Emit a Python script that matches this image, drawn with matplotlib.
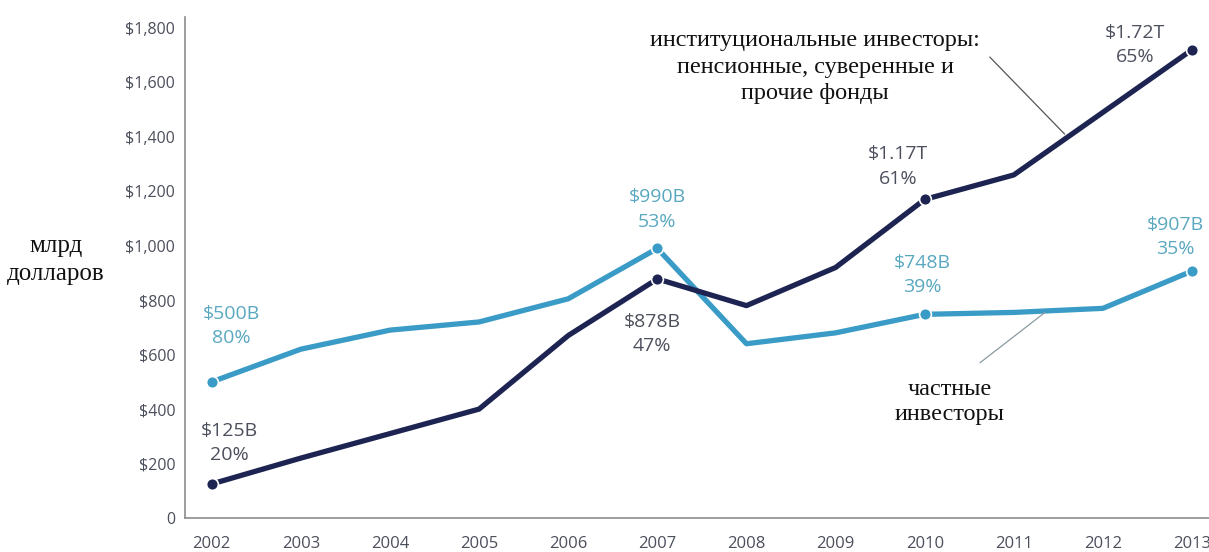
import matplotlib.pyplot as plt

# Капитал в фондах прямых инвестиций по типу инвестора, млрд долларов
years = [2002, 2003, 2004, 2005, 2006, 2007, 2008, 2009, 2010, 2011, 2012, 2013]
institutional = [125, 220, 310, 400, 670, 878, 780, 920, 1170, 1260, 1490, 1720]
private = [500, 620, 690, 720, 805, 990, 640, 680, 748, 755, 770, 907]

yticks = [0, 200, 400, 600, 800, 1000, 1200, 1400, 1600, 1800]
ytick_labels = ['0', '$200', '$400', '$600', '$800', '$1,000', '$1,200', '$1,400', '$1,600', '$1,800']

# подписи точек: (год, текст)
inst_labels = {2002: '$125B\n20%', 2007: '$878B\n47%', 2010: '$1.17T\n61%', 2013: '$1.72T\n65%'}
priv_labels = {2002: '$500B\n80%', 2007: '$990B\n53%', 2010: '$748B\n39%', 2013: '$907B\n35%'}

dark = '#1e2452'
light = '#3a9cc6'
dark_txt = '#4c4f5c'
light_txt = '#5aa8c0'
sans = ['Open Sans', 'DejaVu Sans']
serif = ['Liberation Serif', 'DejaVu Serif']

fig = plt.figure(figsize=(12.09, 5.52), dpi=100)
ax = fig.add_axes([0.153, 0.0616, 0.847, 0.9076])

ax.plot(years, private, color=light, lw=3.8, solid_capstyle='round', zorder=3)
ax.plot(years, institutional, color=dark, lw=3.8, solid_capstyle='round', zorder=4)

for yr in priv_labels:
    ax.plot(yr, private[years.index(yr)], 'o', color=light, ms=8.5, mec='white', mew=1.2, zorder=5)
for yr in inst_labels:
    ax.plot(yr, institutional[years.index(yr)], 'o', color=dark, ms=8.5, mec='white', mew=1.2, zorder=5)

inst_off = {2002: (18, 41), 2007: (-5, -55), 2010: (-27, 33), 2013: (-57, 5)}
priv_off = {2002: (20, 56), 2007: (0, 39), 2010: (-2, 39), 2013: (-17, 34)}

for yr, txt in inst_labels.items():
    ax.annotate(txt, (yr, institutional[years.index(yr)]), xytext=inst_off[yr],
                textcoords='offset pixels', ha='center', va='center', fontsize=14,
                color=dark_txt, family=sans, linespacing=1.45)
for yr, txt in priv_labels.items():
    ax.annotate(txt, (yr, private[years.index(yr)]), xytext=priv_off[yr],
                textcoords='offset pixels', ha='center', va='center', fontsize=14,
                color=light_txt, family=sans, linespacing=1.45)

# названия серий и выноски к линиям
ax.text(2008.77, 1656, 'институциональные инвесторы:\nпенсионные, суверенные и\nпрочие фонды',
        ha='center', va='center', fontsize=17.5, family=serif, color='#111111', linespacing=1.32)
ax.annotate('', xy=(2011.57, 1410), xytext=(2010.73, 1693),
            arrowprops=dict(arrowstyle='-', color='#555555', lw=0.9, shrinkA=0, shrinkB=0))
ax.text(2010.28, 427, 'частные\nинвесторы', ha='center', va='center', fontsize=17.5,
        family=serif, color='#111111', linespacing=1.25)
ax.annotate('', xy=(2011.35, 755), xytext=(2010.62, 570),
            arrowprops=dict(arrowstyle='-', color='#8a9aa0', lw=0.9, shrinkA=0, shrinkB=0))

fig.text(0.046, 0.529, 'млрд\nдолларов', ha='center', va='center', fontsize=18,
         family=serif, color='#111111', linespacing=1.3)

ax.set_xlim(2001.7, 2013.19)
ax.set_ylim(0, 1840)
ax.set_xticks(years)
ax.set_xticklabels([str(y) for y in years], family=sans, fontsize=12, color=dark_txt)
ax.set_yticks(yticks)
ax.set_yticklabels(ytick_labels, family=sans, fontsize=11.5, color=dark_txt)
ax.tick_params(axis='x', length=0, pad=13)
ax.tick_params(axis='y', length=0, pad=7)

for s in ['top', 'right']:
    ax.spines[s].set_visible(False)
for s in ['left', 'bottom']:
    ax.spines[s].set_color('#8c8c8c')
    ax.spines[s].set_linewidth(1.2)

fig.savefig('out.png', dpi=100)
